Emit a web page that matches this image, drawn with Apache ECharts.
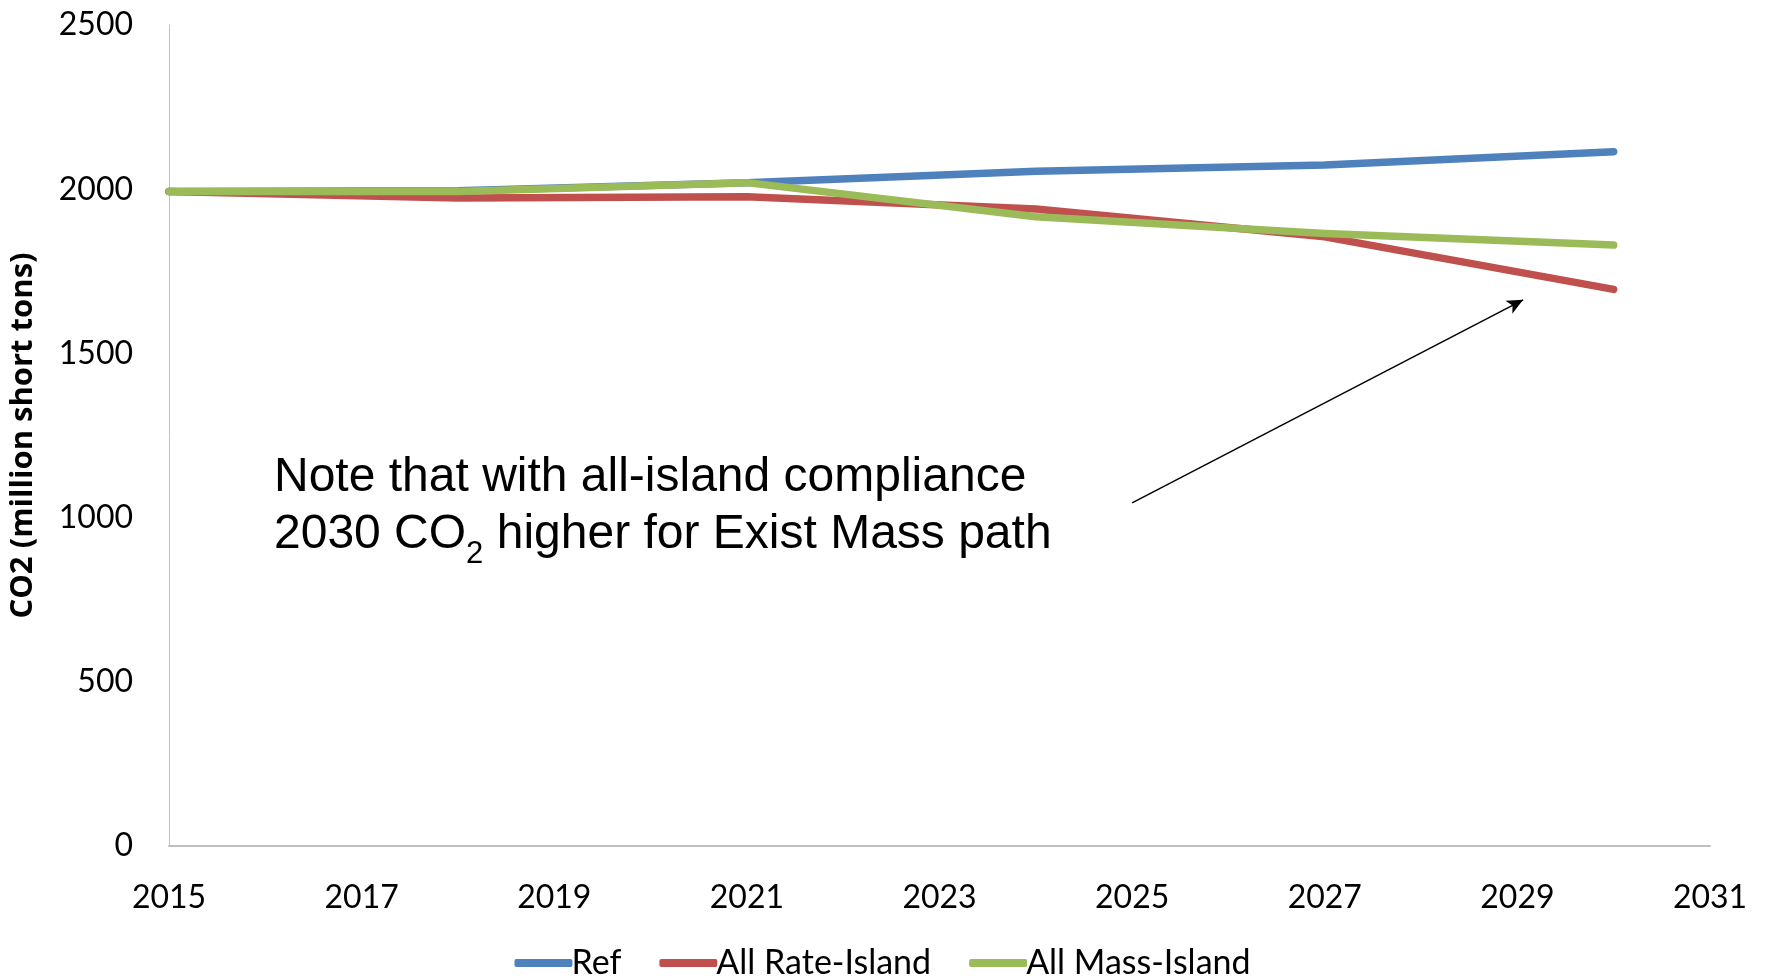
<!DOCTYPE html>
<html><head><meta charset="utf-8">
<script src="https://cdn.jsdelivr.net/npm/echarts@6/dist/echarts.min.js"></script>
<style>html,body{margin:0;padding:0;background:#fff}#c{width:1765px;height:979px}</style>
</head><body><div id="c"></div>
<script>
const years = [2015, 2018, 2021, 2024, 2027, 2030];
const refValues = [1993, 1995, 2020, 2055, 2074, 2114];
const rateIslandValues = [1993, 1973, 1977, 1940, 1855, 1695];
const massIslandValues = [1993, 1993, 2020, 1916, 1865, 1830];
const seriesNames = ['Ref', 'All Rate-Island', 'All Mass-Island'];
const colors = ['#4F81BD', '#C0504D', '#9BBB59'];
const arrowFrom = [2025.0, 1045];
const arrowTo = [2029.06, 1663];

const font = 'Lato, "Liberation Sans", sans-serif';
const chart = echarts.init(document.getElementById('c'));
function mk(name, vals, color, extra) {
  return Object.assign({
    name, type: 'line', data: years.map((y, i) => [y, vals[i]]),
    showSymbol: false, symbol: 'none',
    lineStyle: { color, width: 7.5, cap: 'round', join: 'round' },
    itemStyle: { color }, emphasis: { disabled: true }
  }, extra || {});
}
chart.setOption({
  animation: false,
  grid: { left: 169, right: 55, top: 25, bottom: 133 },
  xAxis: {
    type: 'value', min: 2015, max: 2031, interval: 2,
    axisLine: { lineStyle: { color: '#bfbfbf', width: 2 } },
    axisTick: { show: false }, splitLine: { show: false },
    axisLabel: { formatter: v => String(v), color: '#000', fontSize: 32, fontFamily: font, margin: 36 }
  },
  yAxis: {
    type: 'value', min: 0, max: 2500, interval: 500,
    name: 'CO2 (million short tons)', nameLocation: 'middle', nameGap: 130,
    nameTextStyle: { color: '#000', fontSize: 31, fontWeight: 'bold', fontFamily: '"Open Sans", sans-serif' },
    axisLine: { show: true, lineStyle: { color: '#bfbfbf', width: 1 } },
    axisTick: { show: false }, splitLine: { show: false },
    axisLabel: { formatter: v => String(v), color: '#000', fontSize: 32, fontFamily: font, margin: 36 }
  },
  legend: {
    bottom: -6, left: 'center', itemWidth: 58, itemHeight: 8, itemGap: 38,
    icon: 'roundRect',
    textStyle: { color: '#000', fontSize: 34, fontFamily: font, padding: [0, 0, 0, -6] },
    data: seriesNames
  },
  series: [
    mk(seriesNames[0], refValues, colors[0]),
    mk(seriesNames[1], rateIslandValues, colors[1]),
    mk(seriesNames[2], massIslandValues, colors[2], {
      markLine: {
        silent: true, symbol: ['none', 'arrow'], symbolSize: [11, 16],
        label: { show: false },
        lineStyle: { color: '#000', width: 1.5, type: 'solid' },
        data: [[{ coord: arrowFrom }, { coord: arrowTo }]]
      }
    })
  ],
  graphic: [{
    type: 'text', left: 274, top: 449,
    style: {
      text: 'Note that with all-island compliance\n2030 CO{sub|2} higher for Exist Mass path',
      font: '48px "Liberation Sans", Arial, sans-serif', fill: '#000', lineHeight: 57,
      rich: { sub: { font: '31px "Liberation Sans", Arial, sans-serif', verticalAlign: 'bottom', padding: [0, 0, -7, 0], fill: '#000' } }
    }
  }]
});
</script></body></html>
